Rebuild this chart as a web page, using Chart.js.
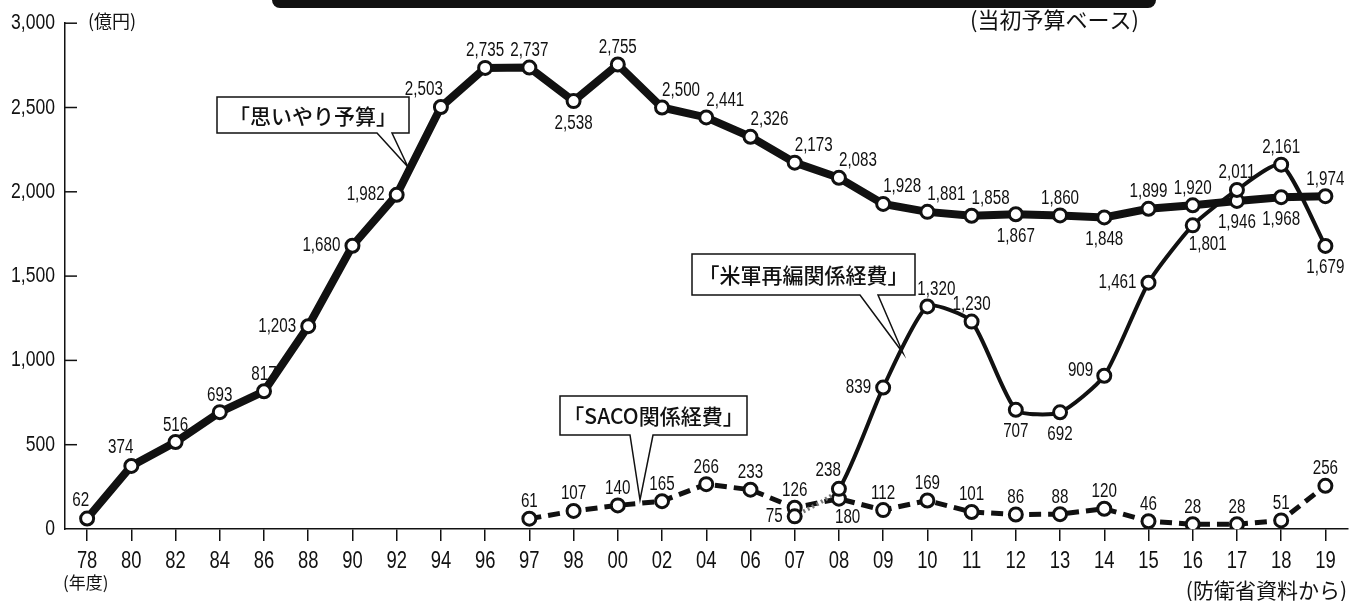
<!DOCTYPE html>
<html>
<head>
<meta charset="utf-8">
<script src="https://cdn.jsdelivr.net/npm/chart.js@4.4.0/dist/chart.umd.min.js"></script>
<style>
  html, body { margin: 0; padding: 0; background: #fff; }
  #wrap { width: 1357px; height: 601px; position: relative; }
</style>
</head>
<body>
<div id="wrap"><canvas id="chart" width="1357" height="601"></canvas></div>
<script>
// 年度
const years = ['78','80','82','84','86','88','90','92','94','96','97','98','00','02','04','06','07','08','09','10','11','12','13','14','15','16','17','18','19'];

// 「思いやり予算」(億円)
const omoiyari = [62,374,516,693,817,1203,1680,1982,2503,2735,2737,2538,2755,2500,2441,2326,2173,2083,1928,1881,1858,1867,1860,1848,1899,1920,1946,1968,1974];

// 「米軍再編関係経費」 07年度から
const saihen = [null,null,null,null,null,null,null,null,null,null,null,null,null,null,null,null,75,238,839,1320,1230,707,692,909,1461,1801,2011,2161,1679];

// 「SACO関係経費」 97年度から
const saco = [null,null,null,null,null,null,null,null,null,null,61,107,140,165,266,233,126,180,112,169,101,86,88,120,46,28,28,51,256];

const yTicks = [0,500,1000,1500,2000,2500,3000];

// where each value label sits relative to its point
const omoiyariPos = ['tl','tl','t','t','t','l','l','l','tl','t','t','b','t','tr','tr','tr','tr','tr','tr','tr','tr','b','t','b','t','t','b','b','t'];
const saihenPos = {16:'l',17:'tl',18:'l',19:'tc',20:'t',21:'b',22:'b',23:'lu',24:'l',25:'br',26:'t',27:'t',28:'b'};
const sacoPos = {17:'br'};

const NUM = '"Liberation Sans", Arial, sans-serif';
const JP = '"Noto Sans CJK JP", sans-serif';
// printed graph uses a narrow face for digits
const NARROW_TICK = 0.8;
const NARROW_LABEL = 0.76;

const fmt = v => v.toLocaleString('en-US');

const PLACE = {
  t:  ['center', 0, -17],
  tc: ['left', -10, -17],
  b:  ['center', 0, 22],
  l:  ['right', -12, 0],
  lu: ['right', -11, -5],
  tl: ['right', 2, -18],
  tr: ['left', 0, -17],
  br: ['left', -4, 19]
};

function narrowFill(ctx, text, x, y, k) {
  ctx.save();
  ctx.translate(x, y);
  ctx.scale(k, 1);
  ctx.fillText(text, 0, 0);
  ctx.restore();
}

function callout(ctx, x, y, w, h, p1, p2, tx, ty, text) {
  ctx.save();
  ctx.beginPath();
  ctx.moveTo(x, y);
  ctx.lineTo(x + w, y);
  ctx.lineTo(x + w, y + h);
  ctx.lineTo(p2, y + h);
  ctx.lineTo(tx, ty);
  ctx.lineTo(p1, y + h);
  ctx.lineTo(x, y + h);
  ctx.closePath();
  ctx.fillStyle = '#fff';
  ctx.fill();
  ctx.strokeStyle = '#111';
  ctx.lineWidth = 1.5;
  ctx.stroke();
  ctx.fillStyle = '#111';
  ctx.font = '500 21px ' + JP;
  ctx.textAlign = 'center';
  ctx.textBaseline = 'middle';
  ctx.fillText(text, x + w / 2, y + h / 2 + 1);
  ctx.restore();
}

// squeeze the axis tick labels the same way while the scales are drawn
const narrowTicks = {
  id: 'narrowTicks',
  beforeDraw(chart) {
    const ctx = chart.ctx;
    const orig = ctx.fillText;
    chart.$origFill = orig;
    ctx.fillText = function (text, x, y) {
      this.save();
      this.translate(x, y);
      this.scale(NARROW_TICK, 1);
      orig.call(this, text, 0, 0);
      this.restore();
    };
  },
  beforeDatasetsDraw(chart) {
    if (chart.$origFill) {
      chart.ctx.fillText = chart.$origFill;
      chart.$origFill = null;
    }
  }
};

const labelsPlugin = {
  id: 'valueLabels',
  afterDatasetsDraw(chart) {
    const ctx = chart.ctx;
    ctx.save();
    ctx.font = '20px ' + NUM;
    ctx.fillStyle = '#111';
    ctx.textBaseline = 'middle';
    chart.data.datasets.forEach((ds, di) => {
      const meta = chart.getDatasetMeta(di);
      meta.data.forEach((pt, i) => {
        const v = ds.data[i];
        if (v === null) return;
        const p = PLACE[ds.place[i] || 't'];
        ctx.textAlign = p[0];
        narrowFill(ctx, fmt(v), pt.x + p[1], pt.y + p[2], NARROW_LABEL);
      });
    });
    ctx.restore();
  }
};

const decorPlugin = {
  id: 'decor',
  afterDraw(chart) {
    const ctx = chart.ctx;
    const area = chart.chartArea;
    const ys = chart.scales.y;
    ctx.save();

    // banner edge at the top
    ctx.fillStyle = '#111';
    ctx.beginPath();
    ctx.roundRect(272, -12, 884, 20, 8);
    ctx.fill();

    // inner tick marks on the value axis
    ctx.strokeStyle = '#111';
    ctx.lineWidth = 1.5;
    yTicks.forEach(v => {
      if (v === 0) return;
      const y = ys.getPixelForValue(v);
      ctx.beginPath();
      ctx.moveTo(area.left, y);
      ctx.lineTo(area.left + 12, y);
      ctx.stroke();
    });

    // notes
    ctx.fillStyle = '#111';
    ctx.textBaseline = 'middle';
    ctx.textAlign = 'left';
    ctx.font = '18px ' + JP;
    ctx.fillText('(億円)', 88, 21);
    ctx.font = '17px ' + JP;
    ctx.fillText('(年度)', 63, 583);
    ctx.font = '22px ' + JP;
    ctx.fillText('(当初予算ベース)', 970, 20);
    ctx.font = '21px ' + JP;
    ctx.textAlign = 'right';
    ctx.fillText('(防衛省資料から)', 1347, 590);
    ctx.restore();

    callout(ctx, 217, 97, 192, 36, 377, 392, 408, 167, '「思いやり予算」');
    callout(ctx, 692, 254, 223, 41, 860, 878, 903, 353, '「米軍再編関係経費」');
    callout(ctx, 560, 396, 187, 39, 630, 653, 640, 500, '「SACO関係経費」');
  }
};

const pointStyle = {
  pointRadius: 6.5,
  pointHoverRadius: 6.5,
  pointBorderWidth: 3,
  pointBackgroundColor: '#fff',
  pointBorderColor: '#111'
};

const ctx = document.getElementById('chart').getContext('2d');
new Chart(ctx, {
  type: 'line',
  data: {
    labels: years,
    datasets: [
      Object.assign({
        label: '米軍再編関係経費',
        data: saihen,
        place: saihenPos,
        borderColor: '#111',
        borderWidth: 4,
        tension: 0.2,
        order: 0,
        segment: {
          borderColor: c => c.p0DataIndex === 16 ? '#777' : undefined,
          borderDash: c => c.p0DataIndex === 16 ? [2, 3] : undefined
        }
      }, pointStyle),
      Object.assign({
        label: '思いやり予算',
        data: omoiyari,
        place: omoiyariPos,
        borderColor: '#111',
        borderWidth: 8,
        tension: 0,
        order: 1
      }, pointStyle),
      Object.assign({
        label: 'SACO関係経費',
        data: saco,
        place: sacoPos,
        borderColor: '#111',
        borderWidth: 5,
        borderDash: [12, 7],
        tension: 0,
        order: 2
      }, pointStyle)
    ]
  },
  options: {
    responsive: false,
    animation: false,
    devicePixelRatio: 1,
    layout: { padding: { top: 19, left: 0, right: 0, bottom: 0 } },
    plugins: {
      legend: { display: false },
      tooltip: { enabled: false }
    },
    scales: {
      x: {
        type: 'category',
        offset: true,
        grid: {
          display: true,
          drawOnChartArea: false,
          drawTicks: true,
          tickLength: 12,
          offset: false,
          color: '#111',
          lineWidth: 1.5
        },
        border: { display: true, color: '#111', width: 1.5 },
        ticks: {
          font: { size: 23, family: NUM },
          color: '#111',
          padding: 7,
          maxRotation: 0,
          autoSkip: false
        },
        afterFit(scale) { scale.height = 72; }
      },
      y: {
        min: 0,
        max: 3000,
        afterBuildTicks(scale) { scale.ticks = yTicks.map(v => ({ value: v })); },
        grid: { display: false, drawTicks: false },
        border: { display: true, color: '#111', width: 1.5 },
        ticks: {
          font: { size: 22, family: NUM },
          color: '#111',
          padding: 10,
          callback: v => fmt(v)
        },
        afterFit(scale) { scale.width = 65; }
      }
    }
  },
  plugins: [narrowTicks, labelsPlugin, decorPlugin]
});
</script>
</body>
</html>
